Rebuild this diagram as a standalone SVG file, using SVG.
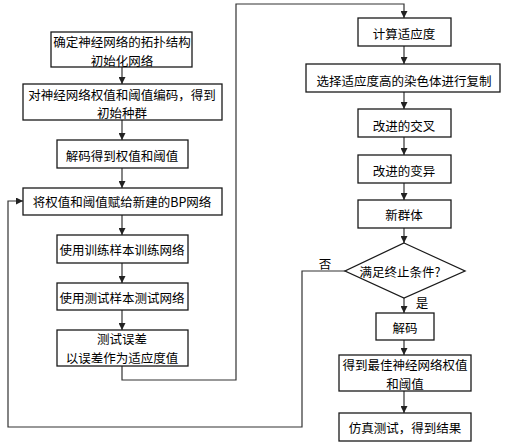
<svg xmlns="http://www.w3.org/2000/svg" width="508" height="445" viewBox="0 0 508 445">
<style>
.n rect, .n polygon { fill: #fff; stroke: #1a1a1a; stroke-width: 1.3; }
text { font-family: "Noto Sans CJK SC", "Liberation Sans", sans-serif; font-size: 12.5px; fill: #000; text-anchor: middle; dominant-baseline: central; }
.c path { fill: none; stroke: #333; stroke-width: 1.2; marker-end: url(#ah); }
</style>
<defs>
<marker id="ah" viewBox="0 0 8 8" refX="8" refY="4" markerWidth="7" markerHeight="7" markerUnits="userSpaceOnUse" orient="auto">
<path d="M0,0 L8,4 L0,8 z" fill="#222"/>
</marker>
</defs>
<rect width="508" height="445" fill="#fff"/>
<g class="c">
<path d="M122,67 V84"/>
<path d="M122,120 V140"/>
<path d="M122,168 V188"/>
<path d="M122,215 V235"/>
<path d="M122,263 V283"/>
<path d="M122,310 V330"/>
<path d="M122,366 V380 H236 V4 H404 V18"/>
<path d="M404,46 V64"/>
<path d="M404,92 V109"/>
<path d="M404,137 V155"/>
<path d="M404,183 V200"/>
<path d="M404,228 V243"/>
<path d="M404,298 V313"/>
<path d="M404,340 V355"/>
<path d="M404,391 V413"/>
<path d="M345,271 H302 V427 H8 V201 H23"/>
</g>
<g id="n1" class="n"><rect x="51" y="32" width="141" height="35"/><text x="122" y="41">确定神经网络的拓扑结构</text><text x="122" y="60">初始化网络</text></g>
<g id="n2" class="n"><rect x="23" y="84" width="199" height="36"/><text x="122" y="94">对神经网络权值和阈值编码，得到</text><text x="122" y="112">初始种群</text></g>
<g id="n3" class="n"><rect x="57" y="140" width="131" height="28"/><text x="122" y="155">解码得到权值和阈值</text></g>
<g id="n4" class="n"><rect x="23" y="188" width="199" height="27"/><text x="122" y="201">将权值和阈值赋给新建的BP网络</text></g>
<g id="n5" class="n"><rect x="57" y="235" width="131" height="28"/><text x="122" y="249">使用训练样本训练网络</text></g>
<g id="n6" class="n"><rect x="57" y="283" width="131" height="27"/><text x="122" y="297">使用测试样本测试网络</text></g>
<g id="n7" class="n"><rect x="57" y="330" width="131" height="36"/><text x="122" y="338">测试误差</text><text x="122" y="357">以误差作为适应度值</text></g>
<g id="n8" class="n"><rect x="358" y="18" width="93" height="28"/><text x="404" y="33">计算适应度</text></g>
<g id="n9" class="n"><rect x="306" y="64" width="194" height="28"/><text x="404" y="80">选择适应度高的染色体进行复制</text></g>
<g id="n10" class="n"><rect x="358" y="109" width="93" height="28"/><text x="404" y="125">改进的交叉</text></g>
<g id="n11" class="n"><rect x="358" y="155" width="93" height="28"/><text x="404" y="170">改进的变异</text></g>
<g id="n12" class="n"><rect x="358" y="200" width="93" height="28"/><text x="404" y="214">新群体</text></g>
<g id="n13" class="n"><polygon points="404,243 465,271 404,298 345,271"/><text x="400" y="271">满足终止条件?</text></g>
<g id="n14" class="n"><rect x="376" y="313" width="58" height="27"/><text x="405" y="327">解码</text></g>
<g id="n15" class="n"><rect x="339" y="355" width="132" height="36"/><text x="405" y="364">得到最佳神经网络权值</text><text x="405" y="383">和阈值</text></g>
<g id="n16" class="n"><rect x="339" y="413" width="132" height="28"/><text x="405" y="427">仿真测试，得到结果</text></g>
<text x="325" y="263">否</text>
<text x="422" y="302">是</text>
</svg>
